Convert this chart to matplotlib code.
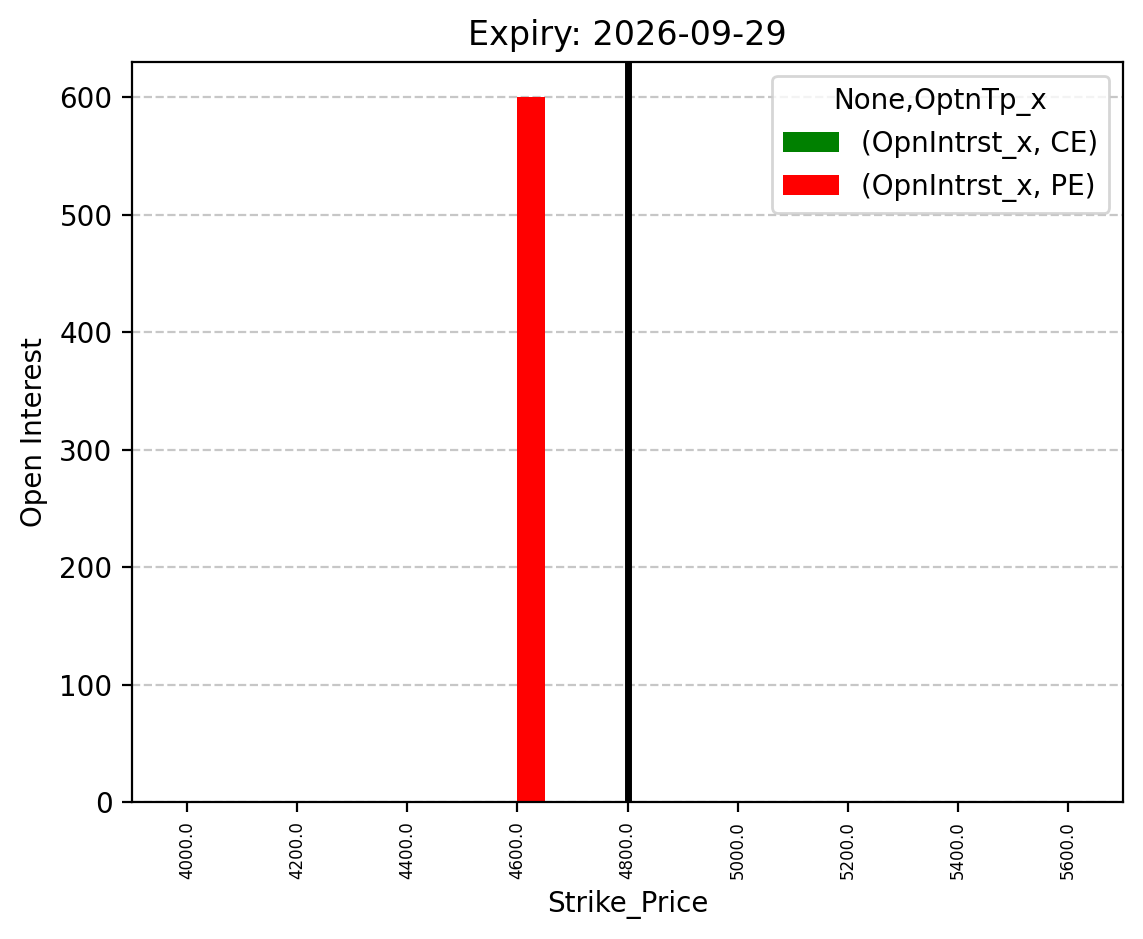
import numpy as np
import matplotlib
matplotlib.use("Agg")
import matplotlib.pyplot as plt

# strikes and open interest per option type
strikes = np.arange(4000, 5700, 100)
ce_oi = np.zeros(len(strikes))
pe_oi = np.zeros(len(strikes))
pe_oi[list(strikes).index(4600)] = 600
spot_price = 4800
tick_strikes = np.arange(4000, 5601, 200)
expiry = "2026-09-29"

fig = plt.figure(figsize=(1143 / 200, 939 / 200), dpi=200)
ax = fig.add_axes([132 / 1143, (939 - 802) / 939, 991 / 1143, 740 / 939])

ax.bar(strikes - 25, ce_oi, width=50, color="green", label="(OpnIntrst_x, CE)")
ax.bar(strikes + 25, pe_oi, width=50, color="red", label="(OpnIntrst_x, PE)")
ax.axvline(spot_price, color="black", linewidth=2.5)

ax.set_xlim(3900, 5700)
ax.set_ylim(0, 630)
ax.set_xticks(tick_strikes)
ax.set_xticklabels([f"{float(s)}" for s in tick_strikes], rotation=90, fontsize=6)
ax.grid(axis="y", linestyle="--", alpha=0.7)
ax.set_axisbelow(True)

ax.set_xlabel("Strike_Price")
ax.set_ylabel("Open Interest")
ax.set_title(f"Expiry: {expiry}")
ax.legend(title="None,OptnTp_x", loc="upper right")

fig.savefig("out.png", dpi=200)
